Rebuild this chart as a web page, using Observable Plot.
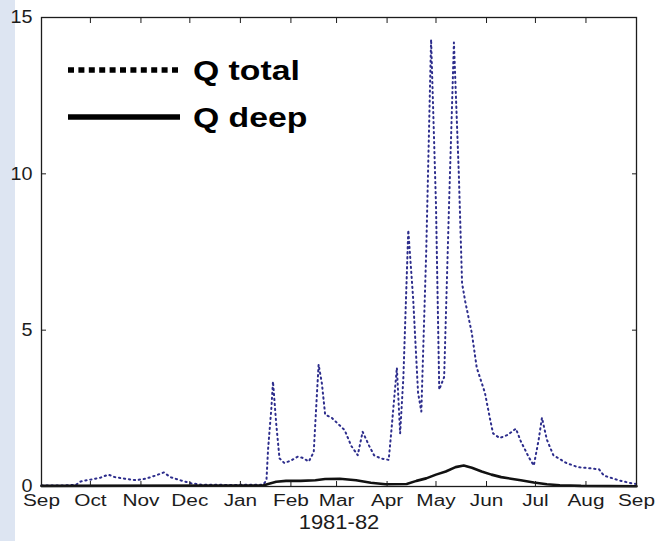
<!DOCTYPE html>
<html>
<head>
<meta charset="utf-8">
<script src="https://cdn.jsdelivr.net/npm/d3@7"></script>
<script src="https://cdn.jsdelivr.net/npm/@observablehq/plot@0.6"></script>
<style>
  html, body { margin: 0; padding: 0; background: #ffffff; }
  #wrap { position: relative; width: 655px; height: 541px; overflow: hidden; background: #ffffff; }
  #strip { position: absolute; left: 0; top: 0; width: 15px; height: 541px; background: #dde5f2; }
  #chart { position: absolute; left: 0; top: 0; }
  #legend { position: absolute; left: 0; top: 0; pointer-events: none; }
  svg text { font-family: "Liberation Sans", Arial, sans-serif; }
</style>
</head>
<body>
<div id="wrap">
  <div id="strip"></div>
  <div id="chart"></div>
  <svg id="legend" width="655" height="541"></svg>
</div>
<script>
// ---- data ----
const totalDates = [
  "1981-09-01","1981-09-12","1981-09-22","1981-09-25","1981-10-01","1981-10-07","1981-10-12","1981-10-16",
  "1981-10-22","1981-10-29","1981-11-04","1981-11-10","1981-11-15","1981-11-19","1981-11-25","1981-12-02",
  "1981-12-08","1981-12-26","1982-01-15","1982-01-17","1982-01-18","1982-01-20","1982-01-21","1982-01-23",
  "1982-01-25","1982-01-28","1982-02-01","1982-02-05","1982-02-08","1982-02-12","1982-02-15","1982-02-17",
  "1982-02-18","1982-02-20","1982-02-22","1982-02-26","1982-03-03","1982-03-06","1982-03-10","1982-03-14",
  "1982-03-17","1982-03-21","1982-03-24","1982-03-28","1982-04-02","1982-04-04","1982-04-07","1982-04-09",
  "1982-04-11","1982-04-14","1982-04-17","1982-04-20","1982-04-22","1982-04-25","1982-04-28","1982-05-01",
  "1982-05-03","1982-05-06","1982-05-09","1982-05-12","1982-05-15","1982-05-17","1982-05-19","1982-05-23",
  "1982-05-26","1982-05-31","1982-06-03","1982-06-05","1982-06-09","1982-06-14","1982-06-19","1982-06-22",
  "1982-06-27","1982-06-30","1982-07-03","1982-07-05","1982-07-08","1982-07-12","1982-07-20","1982-07-27",
  "1982-08-04","1982-08-09","1982-08-12","1982-08-21","1982-08-29","1982-09-01"
];
const totalValues = [
  0.03, 0.03, 0.05, 0.16, 0.22, 0.28, 0.38, 0.30,
  0.25, 0.20, 0.25, 0.35, 0.45, 0.30, 0.20, 0.10,
  0.06, 0.05, 0.06, 0.20, 1.20, 2.50, 3.36, 2.00,
  0.90, 0.75, 0.83, 0.95, 0.92, 0.80, 1.10, 3.00,
  3.90, 3.30, 2.30, 2.20, 1.95, 1.80, 1.30, 1.00,
  1.75, 1.30, 1.00, 0.90, 0.85, 2.00, 3.80, 1.70,
  3.50, 8.20, 6.00, 3.00, 2.40, 7.50, 14.30, 9.00,
  3.10, 3.50, 9.00, 14.20, 10.00, 6.50, 5.90, 4.90,
  3.80, 3.00, 2.20, 1.70, 1.55, 1.65, 1.85, 1.45,
  0.93, 0.67, 1.50, 2.20, 1.50, 1.00, 0.75, 0.62,
  0.58, 0.55, 0.35, 0.20, 0.10, 0.08
];
const deepDates = [
  "1981-09-01","1982-01-15","1982-01-18","1982-01-23","1982-01-29","1982-02-07","1982-02-16","1982-02-22",
  "1982-03-03","1982-03-13","1982-03-22","1982-03-31","1982-04-13","1982-04-19","1982-04-25","1982-05-01",
  "1982-05-07","1982-05-13","1982-05-18","1982-05-23","1982-05-29","1982-06-04","1982-06-10","1982-06-16",
  "1982-06-22","1982-06-30","1982-07-08","1982-07-16","1982-07-29","1982-09-01"
];
const deepValues = [
  0.02, 0.03, 0.08, 0.15, 0.18, 0.18, 0.20, 0.24,
  0.25, 0.20, 0.12, 0.07, 0.08, 0.18, 0.26, 0.38,
  0.48, 0.62, 0.67, 0.60, 0.48, 0.38, 0.30, 0.25,
  0.20, 0.13, 0.07, 0.04, 0.02, 0.01
];
const monthTicks = ["1981-09-01","1981-10-01","1981-11-01","1981-12-01","1982-01-01","1982-02-01","1982-03-01",
  "1982-04-01","1982-05-01","1982-06-01","1982-07-01","1982-08-01","1982-09-01"];
const monthLabels = ["Sep","Oct","Nov","Dec","Jan","Feb","Mar","Apr","May","Jun","Jul","Aug","Sep"];
const yTicks = [0, 5, 10, 15];
const xTitle = "1981-82";
const seriesNames = ["Q total", "Q deep"];

// ---- tables for the library ----
const totalData = totalDates.map((d, i) => ({date: new Date(d), value: totalValues[i]}));
const deepData = deepDates.map((d, i) => ({date: new Date(d), value: deepValues[i]}));
const tickDates = monthTicks.map(d => new Date(d));
const labelOf = new Map(monthTicks.map((d, i) => [new Date(d).getTime(), monthLabels[i]]));

const totalColor = "#2d2d8c";
const axisColor = "#1c1c1c";

const chart = Plot.plot({
  width: 655,
  height: 541,
  marginLeft: 41,
  marginRight: 19,
  marginTop: 17,
  marginBottom: 55,
  style: {fontFamily: "'Liberation Sans', Arial, sans-serif", fontSize: "16px", color: axisColor, background: "transparent", overflow: "visible"},
  x: {type: "utc", domain: [tickDates[0], tickDates[tickDates.length - 1]], label: null},
  y: {domain: [0, 15], label: null},
  marks: [
    Plot.line(totalData, {x: "date", y: "value", stroke: totalColor, strokeWidth: 2, strokeDasharray: "1.3,3.7"}),
    Plot.line(deepData, {x: "date", y: "value", stroke: "#111111", strokeWidth: 2.6}),
    Plot.frame({stroke: axisColor, strokeWidth: 1.3}),
    // inward ticks
    Plot.axisX(tickDates, {anchor: "bottom", tickSize: 5, dy: -5, fill: "none", tickFormat: () => "", label: null, stroke: axisColor}),
    Plot.axisX(tickDates, {anchor: "top", tickSize: 5, dy: 5, fill: "none", tickFormat: () => "", label: null, stroke: axisColor}),
    Plot.axisY(yTicks, {anchor: "left", tickSize: 5, dx: 5, fill: "none", tickFormat: () => "", label: null, stroke: axisColor}),
    Plot.axisY(yTicks, {anchor: "right", tickSize: 5, dx: -5, fill: "none", tickFormat: () => "", label: null, stroke: axisColor}),
    // tick labels
    Plot.axisX(tickDates, {anchor: "bottom", tickSize: 0, tickPadding: 8, tickFormat: d => labelOf.get(+d), label: null, fontSize: 16, fill: axisColor}),
    Plot.axisY(yTicks, {anchor: "left", tickSize: 0, tickPadding: 9, label: null, fontSize: 18, fill: axisColor}),
    Plot.text([xTitle], {frameAnchor: "bottom", dy: 42, text: d => d, fontSize: 20, fill: axisColor})
  ]
});
document.getElementById("chart").appendChild(chart);

// widen the glyphs horizontally, as in the reference (positions untouched)
function stretch(el, sx) {
  const w = el.getComputedTextLength();
  if (w > 0) {
    el.setAttribute("textLength", (w * sx).toFixed(1));
    el.setAttribute("lengthAdjust", "spacingAndGlyphs");
  }
}
chart.querySelectorAll('g[aria-label="x-axis tick label"] text').forEach(el => stretch(el, 1.3));
chart.querySelectorAll('g[aria-label="y-axis tick label"] text').forEach(el => stretch(el, 1.1));
chart.querySelectorAll('g[aria-label="text"] text').forEach(el => stretch(el, 1.1));

// ---- legend (inside the plot, top-left) ----
const legend = d3.select("#legend");
const entries = [
  {name: seriesNames[0], dash: "6,4.4"},
  {name: seriesNames[1], dash: null}
];
const g = legend.selectAll("g").data(entries).join("g")
  .attr("transform", (d, i) => `translate(68,${70 + i * 47})`);
g.append("line")
  .attr("x1", 0).attr("x2", 112).attr("y1", 0).attr("y2", 0)
  .attr("stroke", "#000").attr("stroke-width", 5.5)
  .attr("stroke-dasharray", d => d.dash);
g.append("text")
  .attr("transform", "translate(125,0) scale(1.25,1)")
  .attr("dy", "0.36em")
  .attr("font-family", "'Liberation Sans', Arial, sans-serif")
  .attr("font-weight", "bold").attr("font-size", 27)
  .attr("fill", "#000")
  .text(d => d.name);
</script>
</body>
</html>
